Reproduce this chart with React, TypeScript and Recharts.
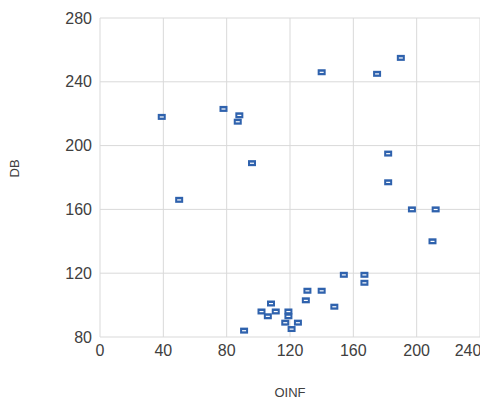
import { ScatterChart, Scatter, XAxis, YAxis, CartesianGrid } from "recharts";

const oinf = [39, 50, 78, 87, 88, 96, 140, 175, 190, 182, 182, 197, 212, 210, 154, 167, 167, 131, 140, 130, 148, 108, 102, 106, 111, 119, 119, 117, 125, 121, 91];
const db = [218, 166, 223, 215, 219, 189, 246, 245, 255, 195, 177, 160, 160, 140, 119, 119, 114, 109, 109, 103, 99, 101, 96, 93, 96, 96, 93, 89, 89, 85, 84];
const xTicks = [0, 40, 80, 120, 160, 200, 240];
const yTicks = [80, 120, 160, 200, 240, 280];

const points = oinf.map((x, i) => ({ x, y: db[i] }));

const Marker = (props: any) => {
  const { cx, cy } = props;
  return (
    <g>
      <rect x={cx - 4} y={cy - 3} width={8} height={6} fill="#2f62ad" />
      <rect x={cx - 2} y={cy - 0.5} width={4} height={1.2} fill="#fff" />
    </g>
  );
};

const tick = { fill: "#404040", fontSize: 16 };

export default function App() {
  return (
    <ScatterChart width={472} height={393} margin={{ top: 10, right: 0, left: 32, bottom: 34 }} style={{ fontFamily: "Liberation Sans, Arial, sans-serif", overflow: "visible" }}>
      <CartesianGrid stroke="#d9d9d9" />
      <XAxis
        type="number"
        dataKey="x"
        domain={[0, 240]}
        ticks={xTicks}
        tick={tick}
        tickLine={false}
        axisLine={false}
        height={30}
        label={{ value: "OINF", position: "insideBottom", offset: -30, fill: "#404040", fontSize: 13 }}
      />
      <YAxis
        type="number"
        dataKey="y"
        domain={[80, 280]}
        ticks={yTicks}
        tick={tick}
        tickLine={false}
        axisLine={false}
        width={60}
        label={{ value: "DB", angle: -90, position: "insideLeft", offset: -26, fill: "#404040", fontSize: 13 }}
      />
      <Scatter data={points} shape={<Marker />} isAnimationActive={false} />
    </ScatterChart>
  );
}
